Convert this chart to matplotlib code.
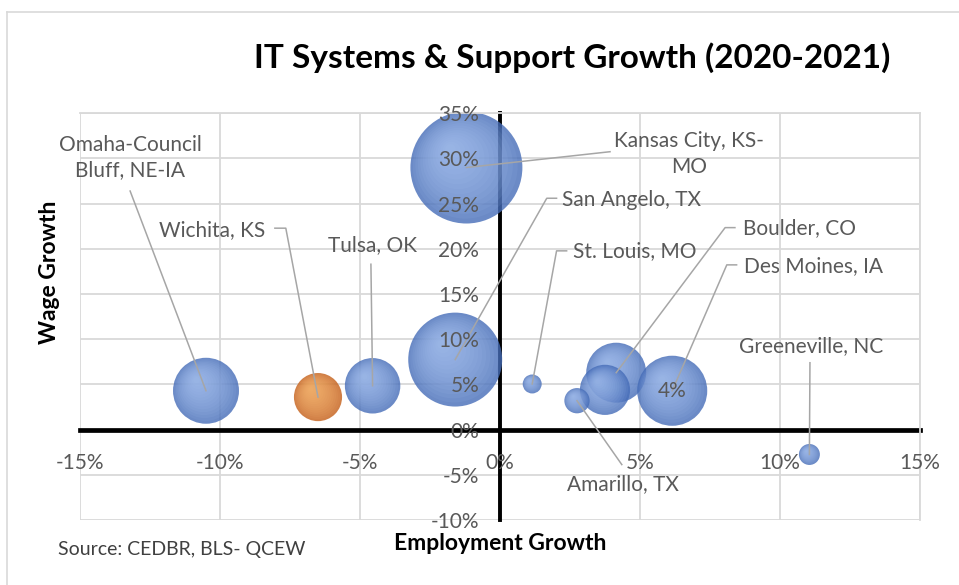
import numpy as np
import matplotlib
matplotlib.use('Agg')
import matplotlib.pyplot as plt
from matplotlib.transforms import ScaledTranslation
from matplotlib.lines import Line2D

plt.rcParams['font.family'] = ['Lato', 'DejaVu Sans']

# ---------------- data ----------------
metros = ["Omaha-Council\nBluff, NE-IA", "Wichita, KS", "Tulsa, OK",
          "Kansas City, KS-\nMO", "San Angelo, TX", "St. Louis, MO",
          "Boulder, CO", "", "Amarillo, TX", "Des Moines, IA", "Greeneville, NC"]
emp_growth = [-10.5, -6.5, -4.55, -1.2, -1.6, 1.15, 4.15, 3.75, 2.75, 6.15, 11.05]
wage_growth = [4.3, 3.6, 4.85, 29.0, 7.75, 5.05, 6.3, 4.4, 3.2, 4.3, -2.75]
bubble_size = [109, 58, 77, 314, 221, 9, 90, 63, 16, 123, 11]
highlight_metro = "Wichita, KS"
x_ticks = [-15, -10, -5, 0, 5, 10, 15]
y_ticks = [-10, -5, 0, 5, 10, 15, 20, 25, 30, 35]
extra_label = ("4%", "Des Moines, IA")

# ---------------- label layout (text centre, leader path) ----------------
label_layout = {
    "Omaha-Council\nBluff, NE-IA": ((-13.21, 30.1), [(-13.21, 26.4)]),
    "Wichita, KS": ((-10.29, 22.1), [(-8.04, 22.29), (-7.65, 22.29)]),
    "Tulsa, OK": ((-4.57, 20.44), [(-4.61, 18.3)]),
    "Kansas City, KS-\nMO": ((6.75, 30.5), [(3.93, 30.75)]),
    "San Angelo, TX": ((4.71, 25.4), [(2.02, 25.6), (1.67, 25.6)]),
    "St. Louis, MO": ((4.82, 19.7), [(2.38, 19.78), (2.02, 19.78)]),
    "Boulder, CO": ((10.68, 22.3), [(8.39, 22.35), (8.04, 22.35)]),
    "Des Moines, IA": ((11.18, 18.04), [(8.45, 18.23), (8.10, 18.23)]),
    "Greeneville, NC": ((11.11, 9.28), [(11.07, 7.4)]),
    "Amarillo, TX": ((4.39, -6.08), [(4.35, -3.87)]),
}

W, H = 959, 585
fig = plt.figure(figsize=(W / 100, H / 100), dpi=100)
fig.patch.set_facecolor('white')

# chart border (left & top visible)
fig.add_artist(Line2D([7 / W, 7 / W], [0, 1 - 12 / H], color='#d9d9d9', lw=1.2,
                      transform=fig.transFigure))
fig.add_artist(Line2D([7 / W, 1], [1 - 12 / H, 1 - 12 / H], color='#d9d9d9', lw=1.2,
                      transform=fig.transFigure))

ax = fig.add_axes([80 / W, (H - 520) / H, 840 / W, (520 - 113.3) / H])
ax.set_xlim(-15, 15)
ax.set_ylim(-10, 35)
ax.set_facecolor('none')

grid_c = '#d9d9d9'
for v in x_ticks:
    ax.axvline(v, color=grid_c, lw=1.3, zorder=0.5)
for v in y_ticks:
    ax.axhline(v, color=grid_c, lw=1.3, zorder=0.5)

for s in ['top', 'right']:
    ax.spines[s].set_color(grid_c)
    ax.spines[s].set_linewidth(1.3)
for s in ['bottom', 'left']:
    ax.spines[s].set_position(('data', 0))
    ax.spines[s].set_color('black')
    ax.spines[s].set_zorder(1)
ax.spines['bottom'].set_linewidth(3.4)
ax.spines['left'].set_linewidth(2.8)

ax.set_xticks(x_ticks)
ax.set_xticklabels([f"{v}%" for v in x_ticks])
ax.set_yticks(y_ticks)
ax.set_yticklabels([f"{v}%" for v in y_ticks])
ax.tick_params(axis='x', length=0, pad=17, labelsize=15, labelcolor='#595959')
ax.tick_params(axis='y', length=0, pad=15, labelsize=15, labelcolor='#595959')
ax.xaxis.set_zorder(6)
ax.yaxis.set_zorder(6)


def bubble(x, y, s, base, light, z):
    ax.scatter([x], [y], s=s, color=base, alpha=0.8, edgecolors='none', zorder=z)
    d = np.sqrt(s)  # diameter in points
    n = 14
    for k in range(1, n + 1):
        f = 1 - k / (n + 1.5)
        off = (1 - f) * d / 2 * 0.42
        tr = ax.transData + ScaledTranslation(-off * 0.75 / 72, off * 0.85 / 72,
                                              fig.dpi_scale_trans)
        ax.scatter([x], [y], s=s * f * f, color=light, alpha=0.085,
                   edgecolors='none', transform=tr, zorder=z)


SCALE = 20.7
for i, (name, x, y, sz) in enumerate(zip(metros, emp_growth, wage_growth, bubble_size)):
    if name == highlight_metro:
        bubble(x, y, sz * SCALE, '#c55f18', '#ffc27a', 2 + i * 0.01)
    else:
        bubble(x, y, sz * SCALE, '#466db8', '#b0caf6', 2 + i * 0.01)

# data labels with leader lines
lab_c = '#595959'
for name, x, y in zip(metros, emp_growth, wage_growth):
    if name not in label_layout:
        continue
    (tx, ty), path = label_layout[name]
    pts = path + [(x, y)]
    ax.plot([p[0] for p in pts], [p[1] for p in pts], color='#a6a6a6', lw=1.1, zorder=4)
    ax.text(tx, ty, name, ha='center', va='center', fontsize=15, color=lab_c,
            linespacing=1.35, zorder=5)

txt, owner = extra_label
idx = metros.index(owner)
ax.text(emp_growth[idx], wage_growth[idx], txt, ha='center', va='center', fontsize=15,
        color=lab_c, zorder=5)

# titles
fig.text(572 / W, 1 - 58 / H, "IT Systems & Support Growth (2020-2021)", ha='center',
         va='center', fontsize=24, fontweight='bold', color='black')
fig.text(500 / W, 1 - 543 / H, "Employment Growth", ha='center', va='center',
         fontsize=16.5, fontweight='bold', color='black')
fig.text(50 / W, 1 - 272 / H, "Wage Growth", ha='center', va='center', rotation=90,
         fontsize=16.5, fontweight='bold', color='black')
fig.text(58 / W, 1 - 550 / H, "Source: CEDBR, BLS- QCEW", ha='left', va='center',
         fontsize=14, color='#404040')

fig.savefig('out.png', dpi=100)
